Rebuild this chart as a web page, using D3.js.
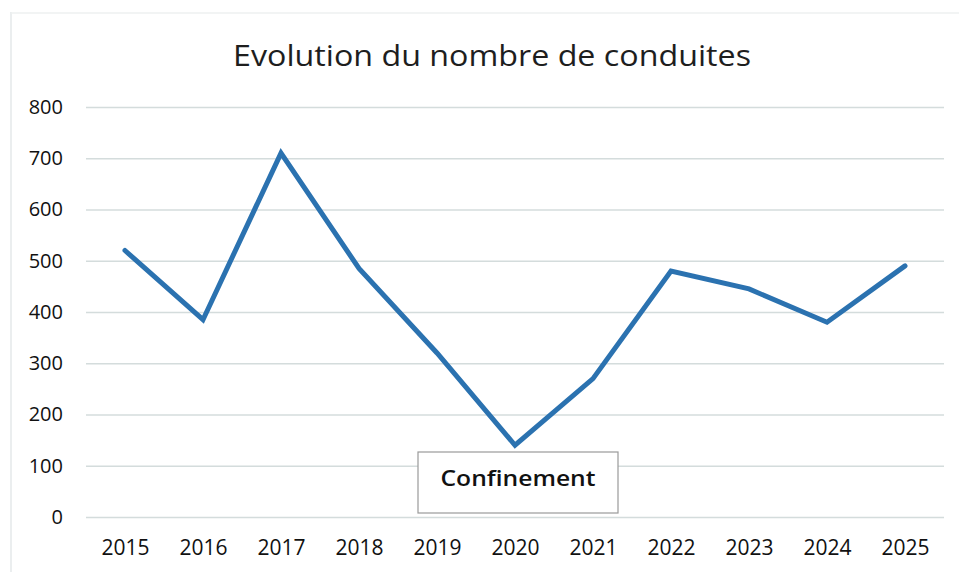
<!DOCTYPE html>
<html>
<head>
<meta charset="utf-8">
<script src="https://cdn.jsdelivr.net/npm/d3@7"></script>
<style>
  html, body { margin: 0; padding: 0; background: #fff; }
  svg { display: block; }
</style>
</head>
<body>
<svg id="chart" width="959" height="572"></svg>
<script>
// Yearly count of "conduites"
const years = ["2015","2016","2017","2018","2019","2020","2021","2022","2023","2024","2025"];
const counts = [520, 385, 710, 485, 320, 140, 270, 480, 445, 380, 490];
const yTicks = [0, 100, 200, 300, 400, 500, 600, 700, 800];
const chartTitle = "Evolution du nombre de conduites";
const noteText = "Confinement";
const noteYear = "2020";

const svg = d3.select("#chart");
const W = 959, H = 572;
const m = { left: 86, right: 15, top: 107, bottom: 55 };

const x = d3.scalePoint()
  .domain(years)
  .range([m.left, W - m.right])
  .padding(0.5);

const y = d3.scaleLinear()
  .domain([0, 800])
  .range([H - m.bottom, m.top]);

// outer frame edges
svg.append("line").attr("x1", 11).attr("x2", 11).attr("y1", 12).attr("y2", 572)
  .attr("stroke", "#e4e8ea").attr("stroke-width", 1.5);
svg.append("line").attr("x1", 11).attr("x2", 959).attr("y1", 13).attr("y2", 13)
  .attr("stroke", "#eef0f1").attr("stroke-width", 1.5);

// title
svg.append("text")
  .attr("x", 492).attr("y", 66)
  .attr("text-anchor", "middle")
  .attr("font-family", "'Open Sans', sans-serif")
  .attr("font-size", 29)
  .attr("fill", "#1e1e1e")
  .attr("textLength", 518)
  .attr("lengthAdjust", "spacingAndGlyphs")
  .text(chartTitle);

// horizontal gridlines + y labels
const yAxis = d3.axisLeft(y)
  .tickValues(yTicks)
  .tickSize(-(W - m.right - m.left))
  .tickPadding(23)
  .tickFormat(d3.format("d"));

const gy = svg.append("g")
  .attr("transform", `translate(${m.left},0)`)
  .call(yAxis);
gy.select(".domain").remove();
gy.selectAll(".tick line").attr("stroke", "#d4dcdc").attr("stroke-width", 1.3);
gy.selectAll(".tick text")
  .attr("font-family", "'Open Sans', sans-serif")
  .attr("font-size", 20)
  .attr("fill", "#111");

// x labels
const xAxis = d3.axisBottom(x).tickSize(0).tickPadding(23);
const gx = svg.append("g")
  .attr("transform", `translate(0,${y(0)})`)
  .call(xAxis);
gx.select(".domain").remove();
gx.selectAll(".tick text")
  .attr("font-family", "'Open Sans', sans-serif")
  .attr("font-size", 21)
  .attr("fill", "#111");

// series line
const line = d3.line()
  .x((d, i) => x(years[i]))
  .y(d => y(d));

svg.append("path")
  .datum(counts)
  .attr("d", line)
  .attr("fill", "none")
  .attr("stroke", "#2b72b0")
  .attr("stroke-width", 5)
  .attr("stroke-linejoin", "miter")
  .attr("stroke-linecap", "round");

// annotation box under the 2020 low point
const bx = x(noteYear);
const boxW = 200, boxH = 61;
const note = svg.append("g").attr("transform", `translate(${bx - boxW / 2 + 3},${y(0) - 65})`);
note.append("rect")
  .attr("width", boxW).attr("height", boxH)
  .attr("fill", "#fff")
  .attr("stroke", "#9a9a9a")
  .attr("stroke-width", 1.2);
note.append("text")
  .attr("x", boxW / 2).attr("y", 34)
  .attr("text-anchor", "middle")
  .attr("font-family", "'Open Sans', sans-serif")
  .attr("font-weight", 600)
  .attr("font-size", 22)
  .attr("fill", "#111")
  .attr("textLength", 155)
  .attr("lengthAdjust", "spacingAndGlyphs")
  .text(noteText);
</script>
</body>
</html>
